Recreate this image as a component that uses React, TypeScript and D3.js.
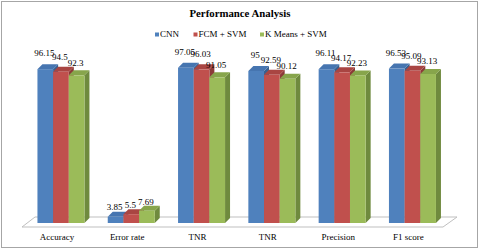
import React from 'react';
import * as d3 from 'd3';

const categories = ['Accuracy', 'Error rate', 'TNR', 'TNR', 'Precision', 'F1 score'];
const seriesNames = ['CNN', 'FCM + SVM', 'K Means + SVM'];
const cnn = [96.15, 3.85, 97.05, 95, 96.11, 96.53];
const fcmSvm = [94.5, 5.5, 96.03, 92.59, 94.17, 95.09];
const kmeansSvm = [92.3, 7.69, 91.05, 90.12, 92.23, 93.13];
const labelText = [
  ['96.15', '3.85', '97.05', '95', '96.11', '96.53'],
  ['94.5', '5.5', '96.03', '92.59', '94.17', '95.09'],
  ['92.3', '7.69', '91.05', '90.12', '92.23', '93.13'],
];

const front = ['#4f81bd', '#c0504d', '#9bbb59'];
const top = ['#4675b0', '#a94542', '#87a54b'];
const side = ['#38608f', '#8c3a38', '#6f8a3e'];

const W = 480;
const H = 250;
const DX = 5;
const DY = -5;
const font = 'Liberation Serif, Times New Roman, serif';

// label lift above the bar (perspective makes it grow with height)
const liftA = [-6.5, -5.6, -5.3];
const liftB = [-0.042, -0.041, -0.029];

export default function App() {
  const series = [cnn, fcmSvm, kmeansSvm];
  const x0 = d3
    .scaleBand<number>()
    .domain(d3.range(categories.length))
    .range([25.8, 447.6]);
  const x1 = d3.scaleBand<number>().domain([0, 1, 2]).range([0, 47]);
  const y = d3.scaleLinear().domain([0, 100]).range([223, 63]);

  const legendX = [155, 193.5, 260];

  return (
    <svg
      width={W}
      height={H}
      style={{ position: 'absolute', left: 0, top: 0, background: '#fff', fontFamily: font }}
    >
      <rect x={1.5} y={1.5} width={476} height={246} fill="#fff" stroke="#a6a6a6" />
      <text x={240} y={17} textAnchor="middle" fontWeight="bold" fontSize={10.8} fill="#000">
        Performance Analysis
      </text>

      {seriesNames.map((name, i) => (
        <g key={name}>
          <rect x={legendX[i]} y={32.5} width={4} height={4} fill={front[i]} />
          <text x={legendX[i] + 5} y={37} fontSize={9} fill="#000">
            {name}
          </text>
        </g>
      ))}

      {/* floor */}
      <path d="M22,227 L443,227 L457,217 L35,217 Z" fill="#fff" stroke="#bfbfbf" />

      {categories.map((c, ci) => {
        const gx = (x0(ci) ?? 0) + (x0.bandwidth() - 47) / 2;
        return (
          <g key={ci}>
            {series.map((s, si) => {
              const bx = gx + (x1(si) ?? 0);
              const bw = x1.bandwidth();
              const yt = y(s[ci]);
              const yb = y(0);
              return (
                <g key={si}>
                  <path
                    d={`M${bx + bw},${yt} L${bx + bw + DX},${yt + DY} L${bx + bw + DX},${yb + DY} L${bx + bw},${yb} Z`}
                    fill={side[si]}
                  />
                  <path
                    d={`M${bx},${yt} L${bx + DX},${yt + DY} L${bx + bw + DX},${yt + DY} L${bx + bw},${yt} Z`}
                    fill={top[si]}
                  />
                  <rect x={bx} y={yt} width={bw} height={yb - yt} fill={front[si]} />
                </g>
              );
            })}
          </g>
        );
      })}

      {categories.map((c, ci) => {
        const gx = (x0(ci) ?? 0) + (x0.bandwidth() - 47) / 2;
        return (
          <g key={'l' + ci}>
            {series.map((s, si) => {
              const bx = gx + (x1(si) ?? 0) + x1.bandwidth() / 2 - 1;
              const h = y(0) - y(s[ci]);
              return (
                <text
                  key={si}
                  x={bx}
                  y={y(s[ci]) + liftA[si] + liftB[si] * h}
                  textAnchor="middle"
                  fontSize={9}
                  fill="#000"
                >
                  {labelText[si][ci]}
                </text>
              );
            })}
            <text
              x={(x0(ci) ?? 0) + x0.bandwidth() / 2 - 4}
              y={240}
              textAnchor="middle"
              fontSize={9}
              fill="#000"
            >
              {c}
            </text>
          </g>
        );
      })}
    </svg>
  );
}
